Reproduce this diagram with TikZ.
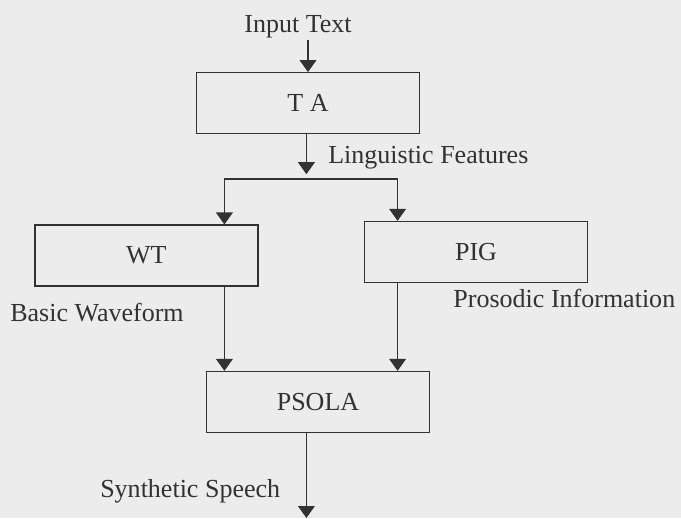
\documentclass[tikz,border=0pt]{standalone}
\usepackage{fontspec}
\setmainfont{Liberation Serif}
\usetikzlibrary{arrows.meta}
\definecolor{paper}{RGB}{236,236,236}
\definecolor{ink}{RGB}{50,50,50}

\begin{document}
\begin{tikzpicture}[every node/.style={font=\fontsize{18.5}{22}\selectfont, text=ink},
	>={Triangle[length=3mm, width=4.2mm]},
	block/.style={draw=ink, line width=0.9pt, minimum width=5.575cm, minimum height=1.525cm, inner sep=0pt},
	lbl/.style={anchor=west, inner sep=0pt},
	flow/.style={draw=ink, line width=0.9pt}]
	\fill[paper] (0,0) rectangle (17.025,12.95);
	\useasboundingbox (0,0) rectangle (17.025,12.95);
	% boxes
	\node[block] (ta) at (7.7,10.37) {T A};
	\node[block] (wt) at (3.66,6.56) {WT};
	\node[block] (pig) at (11.9,6.65) {PIG};
	\node[block] (psola) at (7.95,2.9) {PSOLA};
	% labels
	\node[inner sep=1pt] (intext) at (7.45,12.28) {Input Text};
	\node[lbl] (ling) at (8.2,9.0) {Linguistic Features};
	\node[lbl] (wave) at (0.25,5.13) {Basic Waveform};
	\node[lbl] (pros) at (11.33,5.5) {Prosodic Information};
	\node[lbl] (synth) at (2.5,0.66) {Synthetic Speech};
	% branch points
	\coordinate (split) at (7.66,8.475);
	\coordinate (bl) at (5.61,8.475);
	\coordinate (br) at (9.94,8.475);
	\coordinate (out) at (7.66,0);
	% connectors
	\draw[flow, ->] (ta.north |- intext.south) -- (ta.north);
	\draw[flow, ->, shorten >=1.2mm] (ta.south -| split) -- (split);
	\draw[flow, <->] (bl |- wt.north) -- (bl) -- (br) -- (br |- pig.north);
	\draw[flow, ->] (bl |- wt.south) -- (bl |- psola.north);
	\draw[flow, ->] (br |- pig.south) -- (br |- psola.north);
	\draw[flow, ->] (psola.south -| out) -- (out);
\end{tikzpicture}
\end{document}
